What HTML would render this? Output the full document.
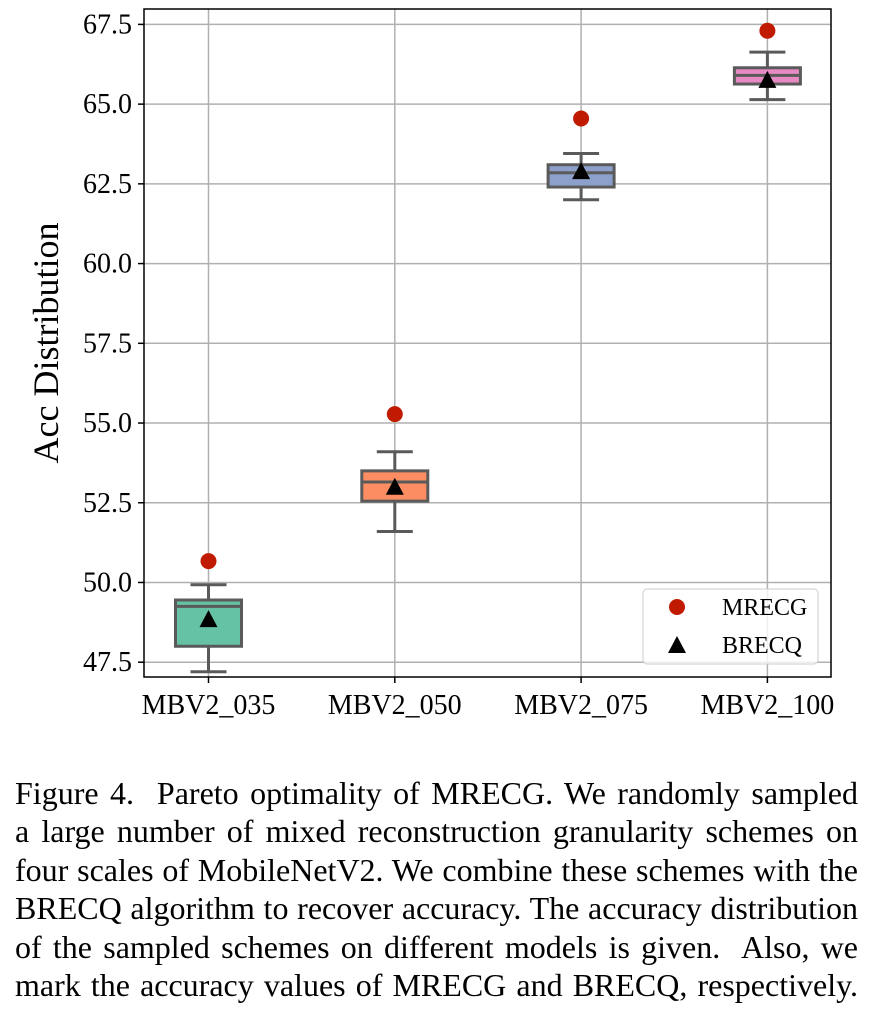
<!DOCTYPE html>
<html><head><meta charset="utf-8"><style>
html,body{margin:0;padding:0;background:#fff;width:875px;height:1016px;overflow:hidden}
svg text{font-family:"Liberation Serif",serif}
.cap{position:absolute;left:15px;width:843px;font-family:"Liberation Serif",serif;font-size:32px;line-height:38.4px;text-align:justify;text-align-last:justify;white-space:nowrap;color:#000}
</style></head><body>
<svg id="chart" width="875" height="760" style="position:absolute;left:0;top:0">
<g id="grid"></g>
<g id="marks"></g>
<g id="axes"></g>
<text transform="translate(58,343) rotate(-90)" text-anchor="middle" font-size="36">Acc Distribution</text>
<g>
<rect x="643" y="589" width="175" height="75" rx="4" fill="#fff" fill-opacity="0.8" stroke="#ccc" stroke-width="1"/>
<circle cx="677" cy="607" r="8" fill="#c01a00"/>
<text x="722" y="615" font-size="24">MRECG</text>
<polygon points="677,636 686,653 668,653" fill="#000"/>
<text x="722" y="653" font-size="24">BRECQ</text>
</g>
</svg>
<div class="cap" style="top:774px">Figure 4.&nbsp; Pareto optimality of MRECG. We randomly sampled</div>
<div class="cap" style="top:812px">a large number of mixed reconstruction granularity schemes on</div>
<div class="cap" style="top:851px">four scales of MobileNetV2. We combine these schemes with the</div>
<div class="cap" style="top:889px">BRECQ algorithm to recover accuracy. The accuracy distribution</div>
<div class="cap" style="top:928px">of the sampled schemes on different models is given.&nbsp; Also, we</div>
<div class="cap" style="top:966px">mark the accuracy values of MRECG and BRECQ, respectively.</div>
<script>
const categories=["MBV2_035","MBV2_050","MBV2_075","MBV2_100"];
const whiskerLow=[47.2,51.6,62.0,65.14];
const q1=[48.0,52.55,62.4,65.63];
const median=[49.25,53.15,62.85,65.9];
const q3=[49.45,53.5,63.1,66.14];
const whiskerHigh=[49.93,54.1,63.45,66.63];
const mrecg=[50.67,55.28,64.55,67.3];
const brecq=[48.85,53.0,62.9,65.76];
const yTicks=[47.5,50.0,52.5,55.0,57.5,60.0,62.5,65.0,67.5];
const colors=["#66c2a5","#fc8d62","#8da0cb","#e78ac3"];

const L=144,R=831,T=9,B=677;
const ns="http://www.w3.org/2000/svg";
function y(v){return 24.4+(67.5-v)*31.89;}
function x(i){return 208.5+i*186.3;}
function mk(tag,attrs,parent){const e=document.createElementNS(ns,tag);for(const k in attrs)e.setAttribute(k,attrs[k]);parent.appendChild(e);return e;}
const grid=document.getElementById('grid'),marks=document.getElementById('marks'),axes=document.getElementById('axes');
yTicks.forEach(t=>{
  const g=mk('line',{x1:L,x2:R,y1:y(t),y2:y(t),stroke:'#b0b0b0','stroke-width':1.5},grid);
  
  
  mk('line',{x1:L-6,x2:L,y1:y(t),y2:y(t),stroke:'#000','stroke-width':1.5},axes);
  const tx=mk('text',{x:L-12,y:y(t)+9,'text-anchor':'end','font-size':28},axes);
  tx.textContent=t.toFixed(1);
  
  
});
categories.forEach((c,i)=>{
  const cx=x(i);
  const g=mk('line',{x1:cx,x2:cx,y1:T,y2:B,stroke:'#b0b0b0','stroke-width':1.5},grid);
  
  
  mk('line',{x1:cx,x2:cx,y1:B,y2:B+6,stroke:'#000','stroke-width':1.5},axes);
  const tx=mk('text',{x:cx,y:B+37,'text-anchor':'middle','font-size':28},axes);
  tx.textContent=c;
  
  
  const grp=mk('g',{},marks);
  
  
  const ec='#5a5a5a',w=3;
  mk('line',{x1:cx,x2:cx,y1:y(whiskerLow[i]),y2:y(q1[i]),stroke:ec,'stroke-width':w},grp);
  mk('line',{x1:cx,x2:cx,y1:y(q3[i]),y2:y(whiskerHigh[i]),stroke:ec,'stroke-width':w},grp);
  mk('line',{x1:cx-18,x2:cx+18,y1:y(whiskerLow[i]),y2:y(whiskerLow[i]),stroke:ec,'stroke-width':w},grp);
  mk('line',{x1:cx-18,x2:cx+18,y1:y(whiskerHigh[i]),y2:y(whiskerHigh[i]),stroke:ec,'stroke-width':w},grp);
  mk('rect',{x:cx-33,y:y(q3[i]),width:66,height:y(q1[i])-y(q3[i]),fill:colors[i],stroke:ec,'stroke-width':w},grp);
  mk('line',{x1:cx-33,x2:cx+33,y1:y(median[i]),y2:y(median[i]),stroke:ec,'stroke-width':w},grp);
  const d=mk('circle',{cx:cx,cy:y(mrecg[i]),r:8,fill:'#c01a00'},marks);
  
  
  const by=y(brecq[i]);
  const tr=mk('polygon',{points:`${cx},${by-9} ${cx+9},${by+8} ${cx-9},${by+8}`,fill:'#000'},marks);
  
  
});
const fr=mk('rect',{x:L,y:T,width:R-L,height:B-T,fill:'none',stroke:'#000','stroke-width':1.5},axes);


</script>
</body></html>
